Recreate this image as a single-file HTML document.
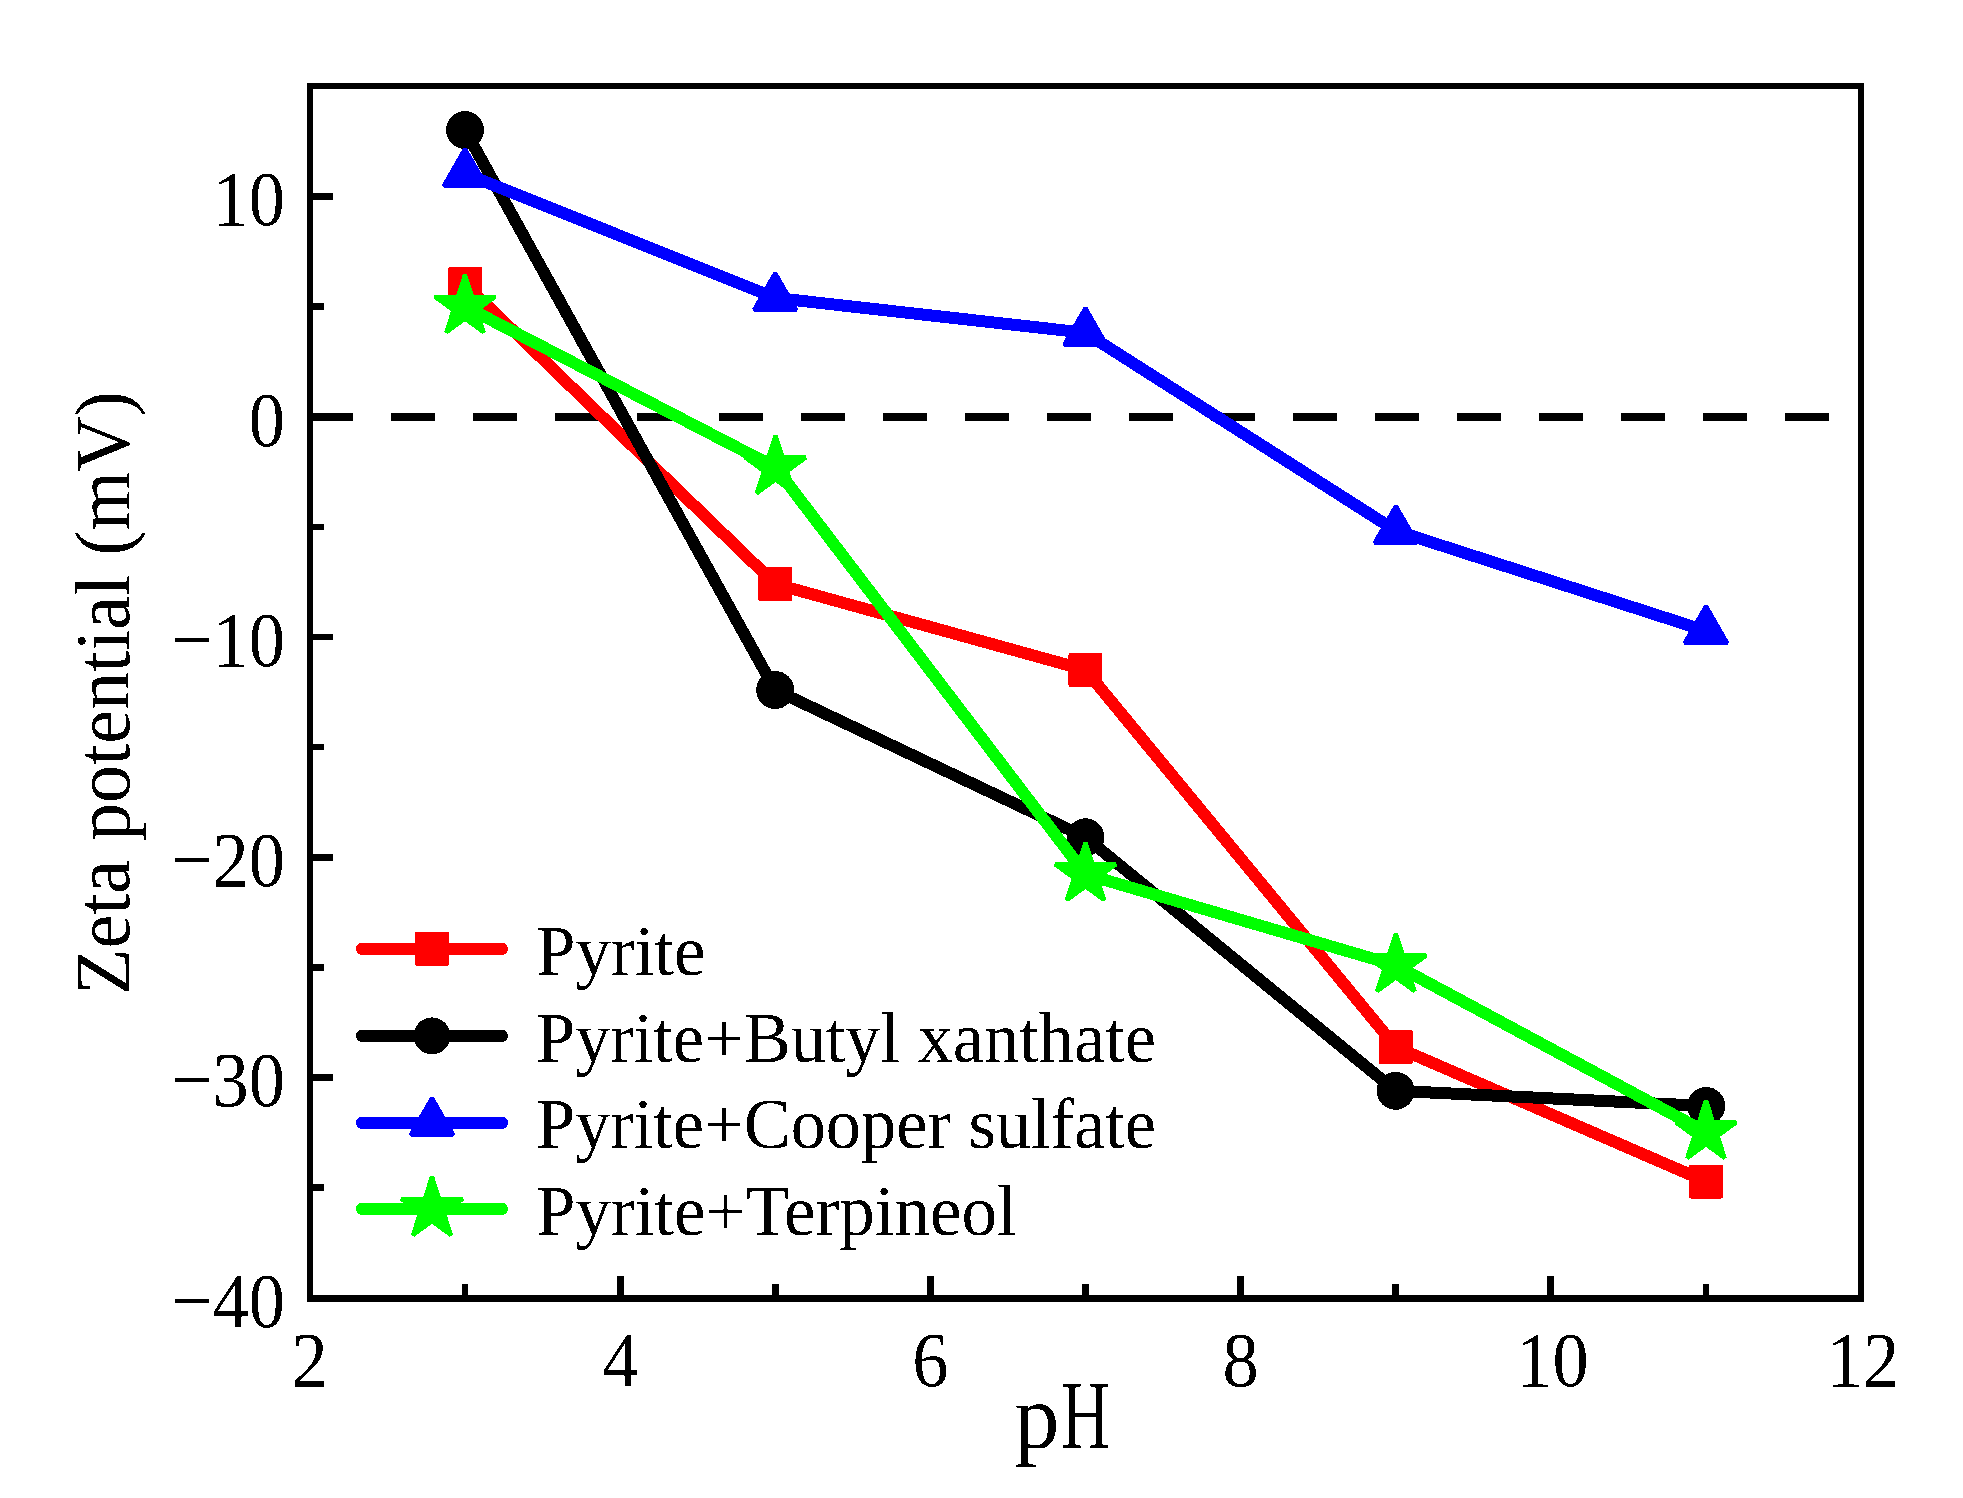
<!DOCTYPE html><html><head><meta charset="utf-8"><title>Zeta potential vs pH</title><style>html,body{margin:0;padding:0;background:#fff;}svg{display:block;}text{font-family:"Liberation Serif","Times New Roman",serif;fill:#000;}</style></head><body>
<svg width="1963" height="1498" viewBox="0 0 1963 1498">
<defs><filter id="bin" filterUnits="userSpaceOnUse" x="0" y="0" width="1963" height="1498"><feComponentTransfer><feFuncA type="discrete" tableValues="0 1"/></feComponentTransfer></filter></defs>
<rect x="0" y="0" width="1963" height="1498" fill="#fff"/>
<line x1="309" y1="417" x2="1861" y2="417" stroke="#000" stroke-width="8" stroke-dasharray="44 38" shape-rendering="crispEdges"/>
<g shape-rendering="crispEdges">
<polyline points="465.0,284.0 775.2,584.0 1085.4,669.9 1395.9,1047.0 1706.0,1181.5" fill="none" stroke="#ff0000" stroke-width="12" stroke-linejoin="round"/>
<rect x="450.0" y="269.0" width="30" height="30" fill="#ff0000" stroke="#ff0000" stroke-width="4" stroke-linejoin="round"/>
<rect x="760.2" y="569.0" width="30" height="30" fill="#ff0000" stroke="#ff0000" stroke-width="4" stroke-linejoin="round"/>
<rect x="1070.4" y="654.9" width="30" height="30" fill="#ff0000" stroke="#ff0000" stroke-width="4" stroke-linejoin="round"/>
<rect x="1380.9" y="1032.0" width="30" height="30" fill="#ff0000" stroke="#ff0000" stroke-width="4" stroke-linejoin="round"/>
<rect x="1691.0" y="1166.5" width="30" height="30" fill="#ff0000" stroke="#ff0000" stroke-width="4" stroke-linejoin="round"/>
<polyline points="465.0,130.0 775.2,690.0 1085.5,837.3 1395.6,1090.8 1706.2,1106.0" fill="none" stroke="#000000" stroke-width="12" stroke-linejoin="round"/>
<circle cx="465.0" cy="130.0" r="19" fill="#000000"/>
<circle cx="775.2" cy="690.0" r="19" fill="#000000"/>
<circle cx="1085.5" cy="837.3" r="19" fill="#000000"/>
<circle cx="1395.6" cy="1090.8" r="19" fill="#000000"/>
<circle cx="1706.2" cy="1106.0" r="19" fill="#000000"/>
<polyline points="465.0,173.7 775.2,297.9 1085.4,332.8 1395.9,530.8 1706.0,630.9" fill="none" stroke="#0000ff" stroke-width="12" stroke-linejoin="round"/>
<polygon points="465.0,148.7 443.7,185.7 486.3,185.7" fill="#0000ff" stroke="#0000ff" stroke-width="4" stroke-linejoin="bevel"/>
<polygon points="775.2,272.9 753.9,309.9 796.5,309.9" fill="#0000ff" stroke="#0000ff" stroke-width="4" stroke-linejoin="bevel"/>
<polygon points="1085.4,307.8 1064.1,344.8 1106.7,344.8" fill="#0000ff" stroke="#0000ff" stroke-width="4" stroke-linejoin="bevel"/>
<polygon points="1395.9,505.8 1374.6,542.8 1417.2,542.8" fill="#0000ff" stroke="#0000ff" stroke-width="4" stroke-linejoin="bevel"/>
<polygon points="1706.0,605.9 1684.7,642.9 1727.3,642.9" fill="#0000ff" stroke="#0000ff" stroke-width="4" stroke-linejoin="bevel"/>
<polyline points="465.0,306.5 775.5,467.4 1085.5,874.3 1395.9,965.4 1706.0,1132.2" fill="none" stroke="#00ff00" stroke-width="12" stroke-linejoin="round"/>
<polygon points="465.00,274.60 472.17,296.63 495.34,296.64 476.60,310.27 483.75,332.31 465.00,318.70 446.25,332.31 453.40,310.27 434.66,296.64 457.83,296.63" fill="#00ff00" stroke="#00ff00" stroke-width="4.2" stroke-linejoin="bevel"/>
<polygon points="775.50,435.50 782.67,457.53 805.84,457.54 787.10,471.17 794.25,493.21 775.50,479.60 756.75,493.21 763.90,471.17 745.16,457.54 768.33,457.53" fill="#00ff00" stroke="#00ff00" stroke-width="4.2" stroke-linejoin="bevel"/>
<polygon points="1085.50,842.40 1092.67,864.43 1115.84,864.44 1097.10,878.07 1104.25,900.11 1085.50,886.50 1066.75,900.11 1073.90,878.07 1055.16,864.44 1078.33,864.43" fill="#00ff00" stroke="#00ff00" stroke-width="4.2" stroke-linejoin="bevel"/>
<polygon points="1395.90,933.50 1403.07,955.53 1426.24,955.54 1407.50,969.17 1414.65,991.21 1395.90,977.60 1377.15,991.21 1384.30,969.17 1365.56,955.54 1388.73,955.53" fill="#00ff00" stroke="#00ff00" stroke-width="4.2" stroke-linejoin="bevel"/>
<polygon points="1706.00,1100.30 1713.17,1122.33 1736.34,1122.34 1717.60,1135.97 1724.75,1158.01 1706.00,1144.40 1687.25,1158.01 1694.40,1135.97 1675.66,1122.34 1698.83,1122.33" fill="#00ff00" stroke="#00ff00" stroke-width="4.2" stroke-linejoin="bevel"/>
</g>
<g fill="#000" shape-rendering="crispEdges">
<rect x="307" y="83" width="1557" height="6"/>
<rect x="307" y="1295" width="1557" height="7"/>
<rect x="307" y="83" width="6" height="1219"/>
<rect x="1858" y="83" width="6" height="1219"/>
<rect x="313" y="193.25" width="20" height="6.5"/>
<rect x="313" y="413.50" width="20" height="6.5"/>
<rect x="313" y="633.75" width="20" height="6.5"/>
<rect x="313" y="854.00" width="20" height="6.5"/>
<rect x="313" y="1074.25" width="20" height="6.5"/>
<rect x="313" y="303.38" width="11" height="6.5"/>
<rect x="313" y="523.62" width="11" height="6.5"/>
<rect x="313" y="743.88" width="11" height="6.5"/>
<rect x="313" y="964.12" width="11" height="6.5"/>
<rect x="313" y="1184.38" width="11" height="6.5"/>
<rect x="616.64" y="1276" width="7" height="19"/>
<rect x="926.88" y="1276" width="7" height="19"/>
<rect x="1237.12" y="1276" width="7" height="19"/>
<rect x="1547.36" y="1276" width="7" height="19"/>
<rect x="461.77" y="1284" width="6.5" height="11"/>
<rect x="772.01" y="1284" width="6.5" height="11"/>
<rect x="1082.25" y="1284" width="6.5" height="11"/>
<rect x="1392.49" y="1284" width="6.5" height="11"/>
<rect x="1702.73" y="1284" width="6.5" height="11"/>
</g>
<g filter="url(#bin)">
<g font-size="78">
<text x="0" y="0" text-anchor="end" transform="translate(285,225.4) scale(0.93,1)">10</text>
<text x="0" y="0" text-anchor="end" transform="translate(285,445.6) scale(0.93,1)">0</text>
<text x="0" y="0" text-anchor="end" transform="translate(285,665.9) scale(0.93,1)">−10</text>
<text x="0" y="0" text-anchor="end" transform="translate(285,886.1) scale(0.93,1)">−20</text>
<text x="0" y="0" text-anchor="end" transform="translate(285,1106.4) scale(0.93,1)">−30</text>
<text x="0" y="0" text-anchor="end" transform="translate(285,1326.7) scale(0.93,1)">−40</text>
<text x="0" y="0" text-anchor="middle" transform="translate(309.6,1386.2) scale(0.93,1)">2</text>
<text x="0" y="0" text-anchor="middle" transform="translate(620.4,1386.2) scale(0.93,1)">4</text>
<text x="0" y="0" text-anchor="middle" transform="translate(930.4,1386.2) scale(0.93,1)">6</text>
<text x="0" y="0" text-anchor="middle" transform="translate(1240.6,1386.2) scale(0.93,1)">8</text>
<text x="0" y="0" text-anchor="middle" transform="translate(1552.4,1386.2) scale(0.93,1)">10</text>
<text x="0" y="0" text-anchor="middle" transform="translate(1863.1,1386.2) scale(0.93,1)">12</text>
</g>
<text x="1014.5" y="1448" font-size="90">p<tspan x="1061" font-size="97" textLength="48.9" lengthAdjust="spacingAndGlyphs">H</tspan></text>
<text x="0" y="0" font-size="78" transform="translate(129,995) rotate(-90) scale(0.975,1)">Zeta potential (mV)</text>
</g>
<g shape-rendering="crispEdges">
<line x1="362" y1="948.9" x2="502" y2="948.9" stroke="#ff0000" stroke-width="12" stroke-linecap="round"/>
<rect x="417.0" y="933.9" width="30" height="30" fill="#ff0000" stroke="#ff0000" stroke-width="4" stroke-linejoin="round"/>
<line x1="362" y1="1035.9" x2="502" y2="1035.9" stroke="#000000" stroke-width="12" stroke-linecap="round"/>
<circle cx="432.0" cy="1035.9" r="18.5" fill="#000000"/>
<line x1="362" y1="1122.8" x2="502" y2="1122.8" stroke="#0000ff" stroke-width="12" stroke-linecap="round"/>
<polygon points="432.0,1097.8 410.7,1134.8 453.3,1134.8" fill="#0000ff" stroke="#0000ff" stroke-width="4" stroke-linejoin="bevel"/>
<line x1="362" y1="1208.9" x2="502" y2="1208.9" stroke="#00ff00" stroke-width="12" stroke-linecap="round"/>
<polygon points="432.00,1176.50 439.29,1198.87 462.81,1198.89 443.79,1212.73 451.04,1235.11 432.00,1221.30 412.96,1235.11 420.21,1212.73 401.19,1198.89 424.71,1198.87" fill="#00ff00" stroke="#00ff00" stroke-width="4.2" stroke-linejoin="bevel"/>
</g>
<g font-size="71" filter="url(#bin)">
<text x="0" y="0" transform="translate(536,974.7) scale(1.0,1)">Pyrite</text>
<text x="0" y="0" transform="translate(536,1062.1) scale(0.991,1)">Pyrite+Butyl xanthate</text>
<text x="0" y="0" transform="translate(536,1147.8) scale(0.991,1)">Pyrite+Cooper sulfate</text>
<text x="0" y="0" transform="translate(536,1235) scale(1.0,1)">Pyrite+Terpineol</text>
</g>
</svg></body></html>
